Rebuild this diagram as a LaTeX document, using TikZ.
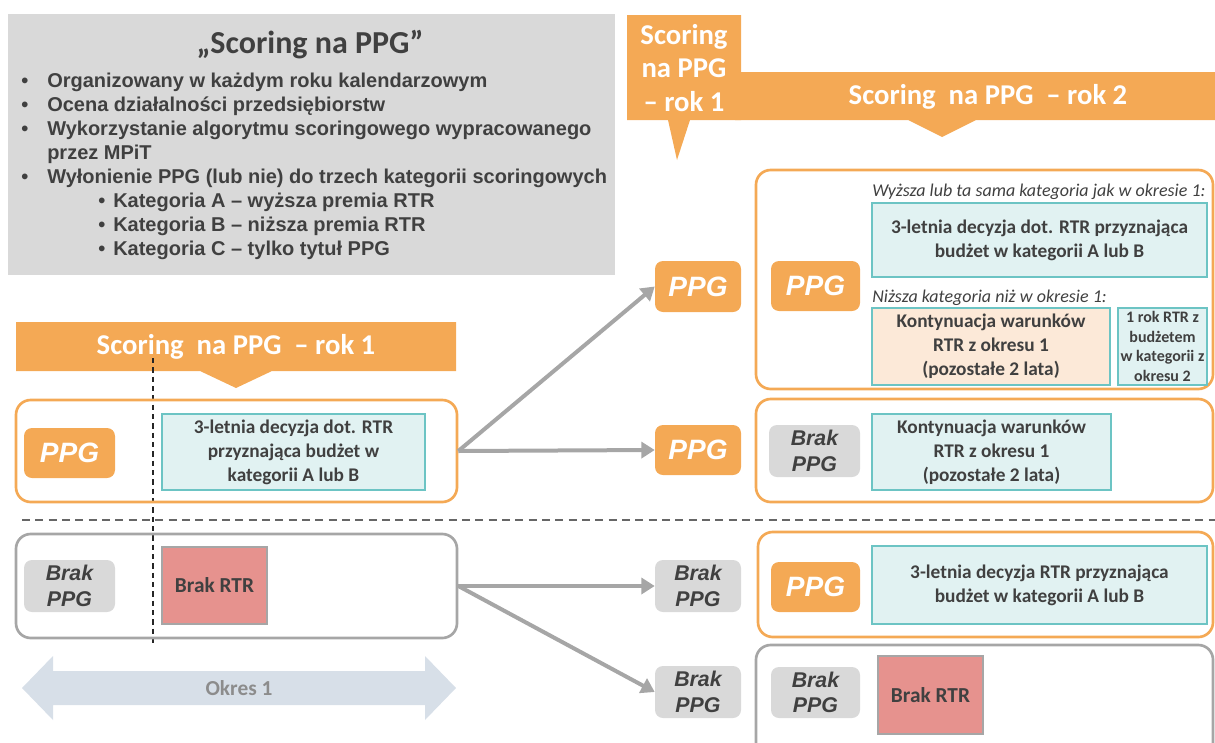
\documentclass[tikz,border=0pt]{standalone}
\usepackage{fontspec}
\setmainfont{Carlito}
\newfontfamily\arialf{Liberation Sans}
\usetikzlibrary{arrows.meta}

\definecolor{orng}{HTML}{F4A955}
\definecolor{tealb}{HTML}{6CC4C4}
\definecolor{tealf}{HTML}{E1F2F2}
\definecolor{peach}{HTML}{FCE9D8}
\definecolor{lgray}{HTML}{D9D9D9}
\definecolor{dgray}{HTML}{404040}
\definecolor{agray}{HTML}{A6A6A6}
\definecolor{salmon}{HTML}{E6928E}
\definecolor{okresf}{HTML}{D7DFE8}
\definecolor{okrest}{HTML}{8C8C8C}

\tikzset{
  % box spanning the corners (x1,y1)-(x2,y2), in pixel units
  span/.style n args={4}{minimum width={(#3-#1)*0.75pt}, minimum height={(#4-#2)*0.75pt},
    at={({(#1+#3)/2},{(#2+#4)/2})}},
  frame/.style={draw, line width=2pt, rounded corners=11pt, inner sep=0pt},
  oframe/.style={frame, draw=orng},
  gframe/.style={frame, draw=agray},
  ppgtag/.style={fill=orng, rounded corners=6pt, inner sep=0pt, text=white,
    font=\arialf\bfseries\itshape\fontsize{21}{24}\selectfont},
  braktag/.style={fill=lgray, rounded corners=6pt, inner sep=0pt, text=dgray, align=center,
    font=\arialf\bfseries\itshape\fontsize{16}{19}\selectfont},
  decbox/.style={draw=tealb, line width=2pt, fill=tealf, inner sep=0pt, align=center,
    text=dgray, font=\bfseries\fontsize{14.5}{18}\selectfont},
  contbox/.style={decbox, fill=peach},
  smallbox/.style={decbox, font=\bfseries\fontsize{12}{14.7}\selectfont},
  brakrtr/.style={draw=agray, line width=2.2pt, fill=salmon, inner sep=0pt,
    text=dgray, font=\bfseries\fontsize{16}{19}\selectfont},
  flow/.style={draw=agray, line width=3pt, -{Triangle[width=12pt,length=10pt]}},
  bannertext/.style={text=white, inner sep=0pt, align=center,
    font=\bfseries\fontsize{21.5}{25}\selectfont},
  note/.style={anchor=base west, inner sep=0pt, text=dgray,
    font=\itshape\fontsize{13.5}{16}\selectfont},
  bulletline/.style={anchor=base west, inner sep=0pt, text=dgray,
    font=\arialf\bfseries\fontsize{15}{17}\selectfont},
}

\begin{document}
\begin{tikzpicture}[x=0.75pt, y=-0.75pt]
\useasboundingbox (0,0) rectangle (1215,743);
\clip (0,0) rectangle (1215,743);

% ---------- description panel ----------
\fill[lgray] (8,14) rectangle (615,275);
\node[inner sep=0pt, text=dgray, font=\bfseries\fontsize{24}{28}\selectfont]
  (title) at (310,45) {„Scoring na PPG”};
\foreach \yy/\nm/\txt in {87/b1/Organizowany w każdym roku kalendarzowym,
                          111/b2/Ocena działalności przedsiębiorstw,
                          135/b3/Wykorzystanie algorytmu scoringowego wypracowanego,
                          183/b5/Wyłonienie PPG (lub nie) do trzech kategorii scoringowych}{
  \node[bulletline] (\nm d) at (21,\yy) {•};
  \node[bulletline] (\nm) at (47,\yy) {\txt};
}
\node[bulletline] (b4) at (47,159) {przez MPiT};
\foreach \yy/\nm/\txt in {207/b6/Kategoria A – wyższa premia RTR,
                          231/b7/Kategoria B – niższa premia RTR,
                          255/b8/Kategoria C – tylko tytuł PPG}{
  \node[bulletline] (\nm d) at (98,\yy) {•};
  \node[bulletline] (\nm) at (113,\yy) {\txt};
}

% ---------- banners ----------
\fill[orng] (627,15) -- (741,15) -- (741,120) -- (690,120) -- (677,160) -- (668,120)
  -- (627,120) -- cycle;
\node[bannertext] (callmid) at (684,68) {Scoring\\na PPG\\– rok 1};

\fill[orng] (735,72) -- (1215,72) -- (1215,120) -- (976,120) -- (942,137) -- (908,120)
  -- (735,120) -- cycle;
\node[bannertext] (bannerB) at (988,97) {Scoring\ \ na PPG\ \ – rok 2};

\fill[orng] (16,322) -- (456,322) -- (456,371) -- (272,371) -- (236,388) -- (200,371)
  -- (16,371) -- cycle;
\node[bannertext] (bannerA) at (236,347) {Scoring\ \ na PPG\ \ – rok 1};

% ---------- separators ----------
\draw[black!85, line width=0.8pt, dash pattern=on 4pt off 3pt] (153,358) -- (153,643);
\draw[dgray!80, line width=1.2pt, dash pattern=on 6pt off 4pt] (22,520) -- (1215,520);

% ---------- year 1 ----------
\node[oframe, span={16}{400}{457}{502}] (r1) {};
\node[ppgtag, span={24}{428}{115}{478}] (r1tag) {PPG};
\node[decbox, span={162}{414}{425}{490}] (r1dec)
  {3-letnia decyzja dot. RTR\\przyznająca budżet w\\kategorii A lub B};

\node[gframe, span={16}{534}{457}{638}] (r2) {};
\node[braktag, span={24}{560}{115}{612}] (r2tag) {Brak\\PPG};
\node[brakrtr, span={162}{547}{267}{624}] (r2rtr) {Brak RTR};

% period arrow
\fill[okresf] (22,688) -- (53,656) -- (53,671) -- (425,671) -- (425,656) -- (456,688)
  -- (425,720) -- (425,705) -- (53,705) -- (53,720) -- cycle;
\node[inner sep=0pt, text=okrest, font=\bfseries\fontsize{16}{19}\selectfont]
  (okres) at (239,688) {Okres 1};

% ---------- scoring outcome ----------
\node[ppgtag, span={655}{261}{741}{312}] (m1) {PPG};
\node[ppgtag, span={655}{425}{741}{475}] (m2) {PPG};
\node[braktag, span={655}{560}{741}{612}] (m3) {Brak\\PPG};
\node[braktag, span={655}{666}{741}{718}] (m4) {Brak\\PPG};

\draw[flow] (r1.east) -- (m1.west);
\draw[flow] (r1.east) -- (m2.west);
\draw[flow] (r2.east) -- (m3.west);
\draw[flow] (r2.east) -- (m4.west);

% ---------- year 2 ----------
\node[oframe, span={756}{170}{1213}{389}] (y1) {};
\node[ppgtag, span={771}{261}{860}{311}] (y1tag) {PPG};
\node[note] (y1noteA) at (872,196) {Wyższa lub ta sama kategoria jak w okresie 1:};
\node[decbox, span={872}{203}{1207}{277}] (y1dec)
  {3-letnia decyzja dot. RTR przyznająca\\budżet w kategorii A lub B};
\node[note] (y1noteB) at (872,302) {Niższa kategoria niż w okresie 1:};
\node[contbox, span={872}{308}{1110}{385}] (y1cont)
  {Kontynuacja warunków\\RTR z okresu 1\\(pozostałe 2 lata)};
\node[smallbox, span={1118}{308}{1207}{385}] (y1one)
  {1 rok RTR z\\budżetem\\w kategorii z\\okresu 2};

\node[oframe, span={756}{399}{1213}{502}] (y2) {};
\node[braktag, span={769}{425}{860}{477}] (y2tag) {Brak\\PPG};
\node[decbox, span={872}{414}{1111}{490}] (y2cont)
  {Kontynuacja warunków\\RTR z okresu 1\\(pozostałe 2 lata)};

\node[oframe, span={758}{532}{1213}{637}] (y3) {};
\node[ppgtag, span={771}{562}{860}{612}] (y3tag) {PPG};
\node[decbox, span={872}{546}{1207}{624}] (y3dec)
  {3-letnia decyzja RTR przyznająca\\budżet w kategorii A lub B};

\node[gframe, span={756}{645}{1213}{775}] (y4) {};
\node[braktag, span={771}{667}{860}{718}] (y4tag) {Brak\\PPG};
\node[brakrtr, span={878}{656}{983}{734}] (y4rtr) {Brak RTR};
\end{tikzpicture}
\end{document}
